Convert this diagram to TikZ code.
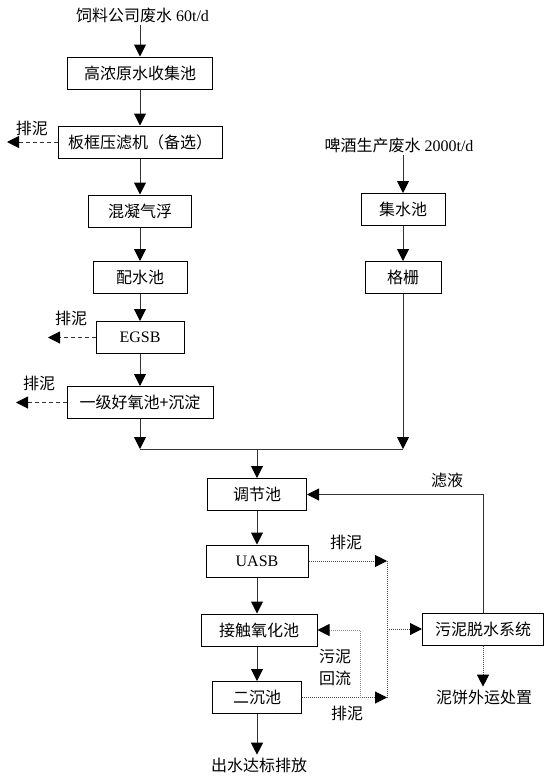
\documentclass[tikz,border=0pt]{standalone}
\usepackage{fontspec}
\setmainfont{Liberation Serif}
\newfontfamily\cjk{Noto Sans CJK SC}
\usetikzlibrary{arrows.meta}

\begin{document}
\begin{tikzpicture}[x = 0.75pt, y = -0.75pt,
  box/.style = {draw, line width = 0.75pt, minimum height = 24pt, inner sep = 0pt, font = \fontsize{12}{14}\selectfont},
  txt/.style = {inner sep = 2pt, align = center, font = \fontsize{12}{16}\selectfont},
  arr/.style = {draw = black!80, line width = 0.75pt, -{Triangle[length = 9pt, width = 9pt, color = black]}},
  dsh/.style = {arr, dash pattern = on 3pt off 2.25pt},
  dot/.style = {arr, draw = black!70, dash pattern = on 0.75pt off 0.75pt},
  ret/.style = {dot, draw = black!45}]
\useasboundingbox (0, 0) rectangle (557, 782);
\def\xa{140}
\def\xb{403}
\def\xc{257}

\node[txt] (src1) at (142.5, 15) {{\cjk 饲料公司废水} 60t/d};
\node[box, minimum width = 108.75pt] (b1) at (\xa, 73) {\cjk 高浓原水收集池};
\node[box, minimum width = 123pt] (b2) at (\xa, 142) {\cjk 板框压滤机（备选）};
\node[box, minimum width = 77.25pt] (b3) at (\xa, 211) {\cjk 混凝气浮};
\node[box, minimum width = 70.5pt] (b4) at (\xa, 277.5) {\cjk 配水池};
\node[box, minimum width = 66pt] (b5) at (\xa, 337.5) {EGSB};
\node[box, minimum width = 109.5pt] (b6) at (\xa, 402.5) {\cjk 一级好氧池+沉淀};

\node[txt] (src2) at (399, 145) {{\cjk 啤酒生产废水} 2000t/d};
\node[box, minimum width = 63pt] (r1) at (\xb, 209.5) {\cjk 集水池};
\node[box, minimum width = 57pt] (r2) at (\xb, 277.5) {\cjk 格栅};

\node[box, minimum width = 74.25pt] (d1) at (\xc, 494.5) {\cjk 调节池};
\node[box, minimum width = 76.5pt] (d2) at (\xc, 561) {UASB};
\node[box, minimum width = 87pt] (d3) at (\xc + 2, 630) {\cjk 接触氧化池};
\node[box, minimum width = 66.75pt] (d4) at (\xc, 697.5) {\cjk 二沉池};
\node[txt] (out) at (\xc + 2, 765) {\cjk 出水达标排放};

\node[box, minimum width = 90.75pt] (sd) at (483, 629) {\cjk 污泥脱水系统};
\node[txt] (cake) at (484, 697) {\cjk 泥饼外运处置};

\node[txt] (pn1) at (32, 128) {\cjk 排泥};
\node[txt] (pn2) at (71, 318) {\cjk 排泥};
\node[txt] (pn3) at (39, 383) {\cjk 排泥};
\node[txt] (pn4) at (346, 542) {\cjk 排泥};
\node[txt] (pn5) at (347, 713) {\cjk 排泥};
\node[txt] (lv) at (447, 480) {\cjk 滤液};
\node[txt] (hl) at (335, 667.5) {\cjk 污泥\\\cjk 回流};

\coordinate (k1) at (7, 142);
\coordinate (k2) at (48, 337.5);
\coordinate (k3) at (16, 402.5);
\coordinate (j1) at (\xa, 449);
\coordinate (j2) at (\xb, 449);
\coordinate (j3) at (\xc, 449);
\coordinate (m1) at (387, 561);
\coordinate (m2) at (387, 697.5);
\coordinate (m3) at (387, 629);
\coordinate (sr) at (360, 697.5);

\draw[arr] (src1.south -| b1) -- (b1.north);
\draw[arr] (b1) -- (b2);
\draw[arr] (b2) -- (b3);
\draw[arr] (b3) -- (b4);
\draw[arr] (b4) -- (b5);
\draw[arr] (b5) -- (b6);
\draw[arr] (b6) -- (j1);
\draw[dsh] (b2.west) -- (k1);
\draw[dsh] (b5.west) -- (k2);
\draw[dsh] (b6.west) -- (k3);

\draw[arr] (src2.south -| r1) -- (r1.north);
\draw[arr] (r1) -- (r2);
\draw[arr] (r2) -- (j2);
\draw[draw = black!80, line width = 0.75pt] (j1) -- (j2);
\draw[arr] (j3) -- (d1);

\draw[arr] (d1) -- (d2);
\draw[arr] (d2.south) -- (d2.south |- d3.north);
\draw[arr] (d3.south -| d4) -- (d4.north);
\draw[arr] (d4.south) -- (d4.south |- out.north);

\draw[dot] (d2.east) -- (m1);
\draw[dot] (d4.east) -- (m2);
\draw[dot, -] (m1) -- (m2);
\draw[dot] (m3) -- (sd.west);
\draw[dot] (sd.south) -- (sd.south |- cake.north);
\draw[arr] (sd.north) |- (d1.east);
\draw[ret] (sr) |- (d3.east);
\end{tikzpicture}
\end{document}
